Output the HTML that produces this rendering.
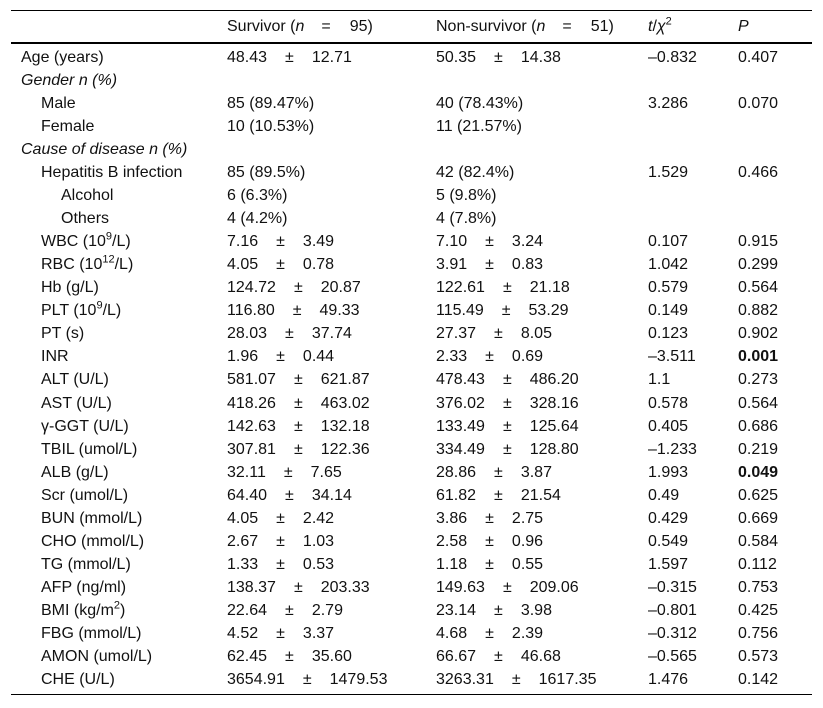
<!DOCTYPE html>
<html><head><meta charset="utf-8">
<style>
body{margin:0;background:#fff;width:823px;height:708px;position:relative;overflow:hidden;font-family:"Liberation Sans",Arial,sans-serif;font-size:16px;color:#111}
.r{position:absolute;left:0;width:823px;height:23px;line-height:23px}
.c{position:absolute;top:0;white-space:nowrap}
.l0{left:21px}.l1{left:41px}.l2{left:61px}
.s{left:227px}.n{left:436px}.t{left:648px}.p{left:738px}
.pm{margin:0 18px 0 18px}
.eq{margin:0 19px 0 17px}
.line{position:absolute;left:11px;width:801px;background:#000}
sup{font-size:11px;line-height:0}
i{font-style:italic}
</style></head><body>
<div class="line" style="top:10px;height:1px"></div>
<div class="line" style="top:42px;height:2px"></div>
<div class="line" style="top:694px;height:1px"></div>
<div class="r" style="top:15px">
<span class="c s">Survivor (<i>n</i><span class="eq">=</span>95)</span>
<span class="c n">Non-survivor (<i>n</i><span class="eq">=</span>51)</span>
<span class="c t"><i>t</i>/<i>χ</i><sup>2</sup></span>
<span class="c p"><i>P</i></span>
</div>
<div id="body"></div>
<script>
const rows=[
["l0","Age (years)","48.43|12.71","50.35|14.38","–0.832","0.407"],
["l0","<i>Gender n (%)</i>","","","",""],
["l1","Male","85 (89.47%)","40 (78.43%)","3.286","0.070"],
["l1","Female","10 (10.53%)","11 (21.57%)","",""],
["l0","<i>Cause of disease n (%)</i>","","","",""],
["l1","Hepatitis B infection","85 (89.5%)","42 (82.4%)","1.529","0.466"],
["l2","Alcohol","6 (6.3%)","5 (9.8%)","",""],
["l2","Others","4 (4.2%)","4 (7.8%)","",""],
["l1","WBC (10<sup>9</sup>/L)","7.16|3.49","7.10|3.24","0.107","0.915"],
["l1","RBC (10<sup>12</sup>/L)","4.05|0.78","3.91|0.83","1.042","0.299"],
["l1","Hb (g/L)","124.72|20.87","122.61|21.18","0.579","0.564"],
["l1","PLT (10<sup>9</sup>/L)","116.80|49.33","115.49|53.29","0.149","0.882"],
["l1","PT (s)","28.03|37.74","27.37|8.05","0.123","0.902"],
["l1","INR","1.96|0.44","2.33|0.69","–3.511","<b>0.001</b>"],
["l1","ALT (U/L)","581.07|621.87","478.43|486.20","1.1","0.273"],
["l1","AST (U/L)","418.26|463.02","376.02|328.16","0.578","0.564"],
["l1","γ-GGT (U/L)","142.63|132.18","133.49|125.64","0.405","0.686"],
["l1","TBIL (umol/L)","307.81|122.36","334.49|128.80","–1.233","0.219"],
["l1","ALB (g/L)","32.11|7.65","28.86|3.87","1.993","<b>0.049</b>"],
["l1","Scr (umol/L)","64.40|34.14","61.82|21.54","0.49","0.625"],
["l1","BUN (mmol/L)","4.05|2.42","3.86|2.75","0.429","0.669"],
["l1","CHO (mmol/L)","2.67|1.03","2.58|0.96","0.549","0.584"],
["l1","TG (mmol/L)","1.33|0.53","1.18|0.55","1.597","0.112"],
["l1","AFP (ng/ml)","138.37|203.33","149.63|209.06","–0.315","0.753"],
["l1","BMI (kg/m<sup>2</sup>)","22.64|2.79","23.14|3.98","–0.801","0.425"],
["l1","FBG (mmol/L)","4.52|3.37","4.68|2.39","–0.312","0.756"],
["l1","AMON (umol/L)","62.45|35.60","66.67|46.68","–0.565","0.573"],
["l1","CHE (U/L)","3654.91|1479.53","3263.31|1617.35","1.476","0.142"]
];
const fmt=v=>v.includes("|")?v.split("|")[0]+'<span class="pm">±</span>'+v.split("|")[1]:v;
const body=document.getElementById("body");
rows.forEach((r,i)=>{
 const d=document.createElement("div");
 d.className="r";
 d.style.top=(45.5+i*23.07)+"px";
 
 
 d.innerHTML='<span class="c '+r[0]+'">'+r[1]+'</span><span class="c s">'+fmt(r[2])+'</span><span class="c n">'+fmt(r[3])+'</span><span class="c t">'+r[4]+'</span><span class="c p">'+r[5]+'</span>';
 d.querySelectorAll("span.c").forEach(s=>{
  
  
 });
 body.appendChild(d);
});
</script>
</body></html>
